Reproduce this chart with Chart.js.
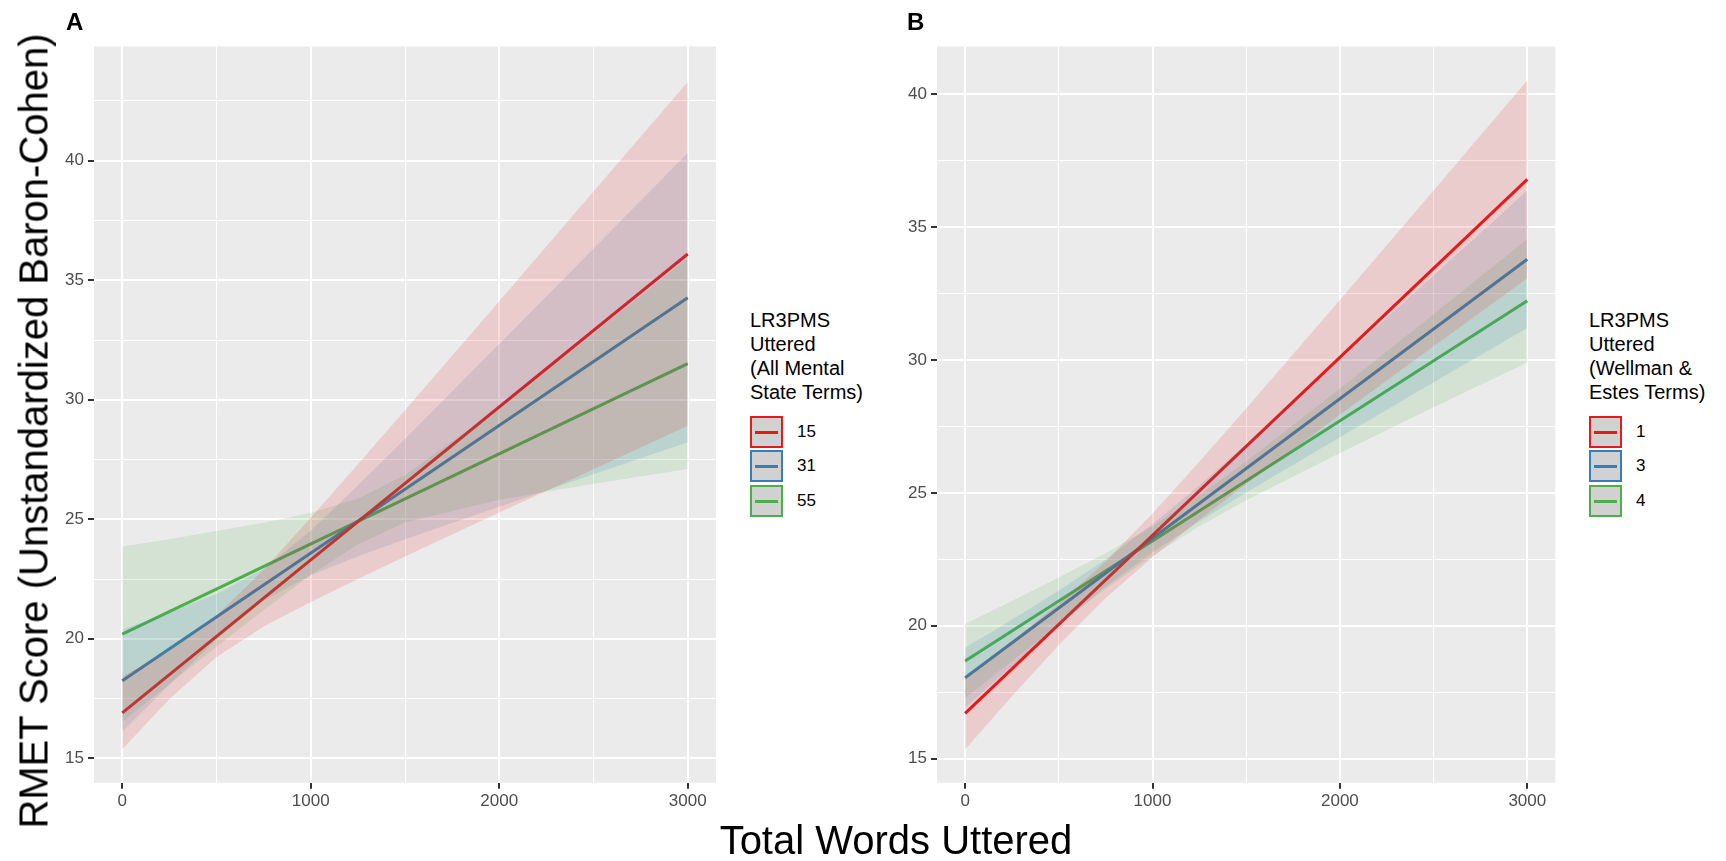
<!DOCTYPE html>
<html>
<head>
<meta charset="utf-8">
<script src="https://cdn.jsdelivr.net/npm/chart.js@4.4.1/dist/chart.umd.min.js"></script>
<style>
  body { margin:0; width:1726px; height:861px; background:#ffffff; position:relative; overflow:hidden;
         font-family:"Liberation Sans", Arial, sans-serif; }
  canvas { position:absolute; }
  .txt { position:absolute; white-space:nowrap; color:#000; }
  .key { position:absolute; box-sizing:border-box; width:33px; height:32px; background:#d1d1d1; border:2px solid; }
  .key i { position:absolute; left:3px; right:3px; top:13px; height:3px; }
</style>
</head>
<body>
<canvas id="chartA" width="690" height="800" style="left:40px;top:30px;"></canvas>
<canvas id="chartB" width="690" height="800" style="left:880px;top:30px;"></canvas>
<div id="overlay"></div>
<script>
// ---------- data ----------
const bandX = [0, 250, 500, 750, 1000, 1250, 1500, 2000, 2500, 3000];
const lineX = [0, 3000];

// Panel A : LR3PMS uttered (All Mental State Terms)
const aCategories = ['15', '31', '55'];
const aRedLine   = [16.9, 36.1];
const aBlueLine  = [18.25, 34.27];
const aGreenLine = [20.2, 31.51];
const aRedLower   = [15.38, 17.48, 19.24, 20.51, 21.54, 22.50, 23.44, 25.28, 27.09, 28.91];
const aRedUpper   = [18.42, 19.52, 20.96, 22.89, 25.06, 27.30, 29.56, 34.12, 38.71, 43.29];
const aBlueLower  = [16.12, 18.08, 19.97, 21.60, 22.66, 23.45, 24.16, 25.53, 26.88, 28.22];
const aBlueUpper  = [20.38, 21.10, 21.87, 22.92, 24.52, 26.41, 28.36, 32.33, 36.32, 40.32];
const aGreenLower = [16.54, 18.11, 19.67, 21.20, 22.67, 23.96, 24.87, 25.82, 26.49, 27.10];
const aGreenUpper = [23.86, 24.17, 24.51, 24.86, 25.27, 25.86, 26.85, 29.66, 32.77, 35.92];

// Panel B : LR3PMS uttered (Wellman & Estes Terms)
const bCategories = ['1', '3', '4'];
const bRedLine   = [16.7, 36.8];
const bBlueLine  = [18.04, 33.79];
const bGreenLine = [18.67, 32.23];
const bRedLower   = [15.34, 17.34, 19.27, 21.04, 22.58, 23.99, 25.33, 27.94, 30.52, 33.08];
const bRedUpper   = [18.06, 19.42, 20.83, 22.42, 24.22, 26.17, 28.17, 32.26, 36.38, 40.52];
const bBlueLower  = [16.91, 18.48, 20.02, 21.47, 22.76, 23.92, 25.01, 27.09, 29.16, 31.20];
const bBlueUpper  = [19.17, 20.22, 21.32, 22.49, 23.82, 25.28, 26.83, 29.99, 33.18, 36.38];
const bGreenLower = [17.28, 18.67, 20.05, 21.39, 22.63, 23.74, 24.72, 26.50, 28.22, 29.91];
const bGreenUpper = [20.06, 20.93, 21.81, 22.73, 23.75, 24.90, 26.18, 28.92, 31.72, 34.55];

// ticks
const xTicks = [0, 500, 1000, 1500, 2000, 2500, 3000];
const xMajor = [0, 1000, 2000, 3000];
const aYTicks = [15, 17.5, 20, 22.5, 25, 27.5, 30, 32.5, 35, 37.5, 40, 42.5];
const bYTicks = [15, 17.5, 20, 22.5, 25, 27.5, 30, 32.5, 35, 37.5, 40];
const yMajor = [15, 20, 25, 30, 35, 40];

// text
const yTitle = 'RMET Score (Unstandardized Baron-Cohen)';
const xTitle = 'Total Words Uttered';
const aLegendTitle = ['LR3PMS', 'Uttered', '(All Mental', 'State Terms)'];
const bLegendTitle = ['LR3PMS', 'Uttered', '(Wellman &', 'Estes Terms)'];
const panelTags = ['A', 'B'];

// ---------- styling ----------
const COLORS = ['#E41A1C', '#377EB8', '#4DAF4A'];
const FILLS  = ['rgba(228,26,28,0.15)', 'rgba(55,126,184,0.15)', 'rgba(77,175,74,0.15)'];
const FONT = '"Liberation Sans", Arial, sans-serif';

const panelBg = {
  id: 'panelBg',
  beforeDraw(chart) {
    const a = chart.chartArea, c = chart.ctx;
    c.save(); c.fillStyle = '#EBEBEB';
    c.fillRect(a.left, a.top, a.right - a.left, a.bottom - a.top);
    c.restore();
  }
};

function pts(xs, ys) { return xs.map((x, i) => ({ x: x, y: ys[i] })); }

function buildDatasets(lines, lowers, uppers) {
  const ds = [];
  for (let k = 0; k < 3; k++) {
    ds.push({ data: pts(bandX, lowers[k]), borderWidth: 0, pointRadius: 0, fill: false, order: 0 });
    ds.push({ data: pts(bandX, uppers[k]), borderWidth: 0, pointRadius: 0, fill: '-1',
              backgroundColor: FILLS[k], order: 0 });
  }
  for (let k = 0; k < 3; k++) {
    ds.push({ data: pts(lineX, lines[k]), borderColor: COLORS[k], borderWidth: 3,
              pointRadius: 0, fill: false, order: 1 });
  }
  return ds;
}

function makeChart(id, datasets, yTicks, yMin, yMax, yWidth, xHeight, pad) {
  return new Chart(document.getElementById(id), {
    type: 'line',
    data: { datasets: datasets },
    plugins: [panelBg],
    options: {
      responsive: false, animation: false, devicePixelRatio: 1,
      layout: { padding: pad },
      plugins: { legend: { display: false }, tooltip: { enabled: false } },
      elements: { line: { tension: 0 } },
      scales: {
        x: {
          type: 'linear', min: -150, max: 3150,
          afterBuildTicks: s => { s.ticks = xTicks.map(v => ({ value: v })); },
          afterFit: s => { s.height = xHeight; },
          border: { display: false },
          grid: {
            color: '#FFFFFF',
            lineWidth: c => (c.tick && xMajor.includes(c.tick.value)) ? 2 : 1,
            tickColor: c => (c.tick && xMajor.includes(c.tick.value)) ? '#333333' : 'rgba(0,0,0,0)',
            tickWidth: 2, tickLength: 6, drawTicks: true
          },
          ticks: {
            autoSkip: false, maxRotation: 0, padding: 2, color: '#4D4D4D',
            font: { family: FONT, size: 17 },
            callback: v => xMajor.includes(v) ? String(v) : ''
          }
        },
        y: {
          type: 'linear', min: yMin, max: yMax,
          afterBuildTicks: s => { s.ticks = yTicks.map(v => ({ value: v })); },
          afterFit: s => { s.width = yWidth; },
          border: { display: false },
          grid: {
            color: '#FFFFFF',
            lineWidth: c => (c.tick && yMajor.includes(c.tick.value)) ? 2 : 1,
            tickColor: c => (c.tick && yMajor.includes(c.tick.value)) ? '#333333' : 'rgba(0,0,0,0)',
            tickWidth: 2, tickLength: 6, drawTicks: true
          },
          ticks: {
            autoSkip: false, padding: 4, color: '#4D4D4D',
            font: { family: FONT, size: 17 },
            callback: v => yMajor.includes(v) ? String(v) : ''
          }
        }
      }
    }
  });
}

makeChart('chartA',
  buildDatasets([aRedLine, aBlueLine, aGreenLine],
                [aRedLower, aBlueLower, aGreenLower],
                [aRedUpper, aBlueUpper, aGreenUpper]),
  aYTicks, 13.98, 44.78, 54, 47.3, { top: 16.5, right: 14, left: 0, bottom: 0 });

makeChart('chartB',
  buildDatasets([bRedLine, bBlueLine, bGreenLine],
                [bRedLower, bBlueLower, bGreenLower],
                [bRedUpper, bBlueUpper, bGreenUpper]),
  bYTicks, 14.09, 41.8, 57, 47.3, { top: 16.5, right: 14.6, left: 0, bottom: 0 });

// ---------- text overlay (titles, tags, legends) ----------
const ov = document.getElementById('overlay');
function addText(txt, css) {
  const d = document.createElement('div');
  d.className = 'txt'; d.textContent = txt;
  Object.assign(d.style, css);
  ov.appendChild(d); return d;
}
// y axis title (rotated)
addText(yTitle, { left: '-397.5px', top: '411px', width: '861px', height: '40px', lineHeight: '40px',
  fontSize: '40px', textAlign: 'center', transform: 'rotate(-90deg)', transformOrigin: '50% 50%' });
// x axis title
addText(xTitle, { left: '496px', top: '820px', width: '800px', lineHeight: '40px',
  fontSize: '40px', textAlign: 'center' });
// panel tags
addText(panelTags[0], { left: '66px', top: '9.7px', fontSize: '24px', lineHeight: '24px', fontWeight: 'bold' });
addText(panelTags[1], { left: '907px', top: '9.7px', fontSize: '24px', lineHeight: '24px', fontWeight: 'bold' });

function addLegend(x, titleLines, cats) {
  titleLines.forEach((t, i) => addText(t, { left: x + 'px', top: (308 + 24 * i) + 'px',
    fontSize: '20px', lineHeight: '24px' }));
  cats.forEach((c, i) => {
    const top = Math.round(415.5 + 34.6 * i);
    const k = document.createElement('div');
    k.className = 'key';
    k.style.left = x + 'px'; k.style.top = top + 'px'; k.style.borderColor = COLORS[i];
    const ln = document.createElement('i'); ln.style.background = COLORS[i];
    k.appendChild(ln); ov.appendChild(k);
    addText(c, { left: (x + 47) + 'px', top: top + 'px', fontSize: '17px', lineHeight: '32px' });
  });
}
addLegend(750, aLegendTitle, aCategories);
addLegend(1589, bLegendTitle, bCategories);
</script>
</body>
</html>
